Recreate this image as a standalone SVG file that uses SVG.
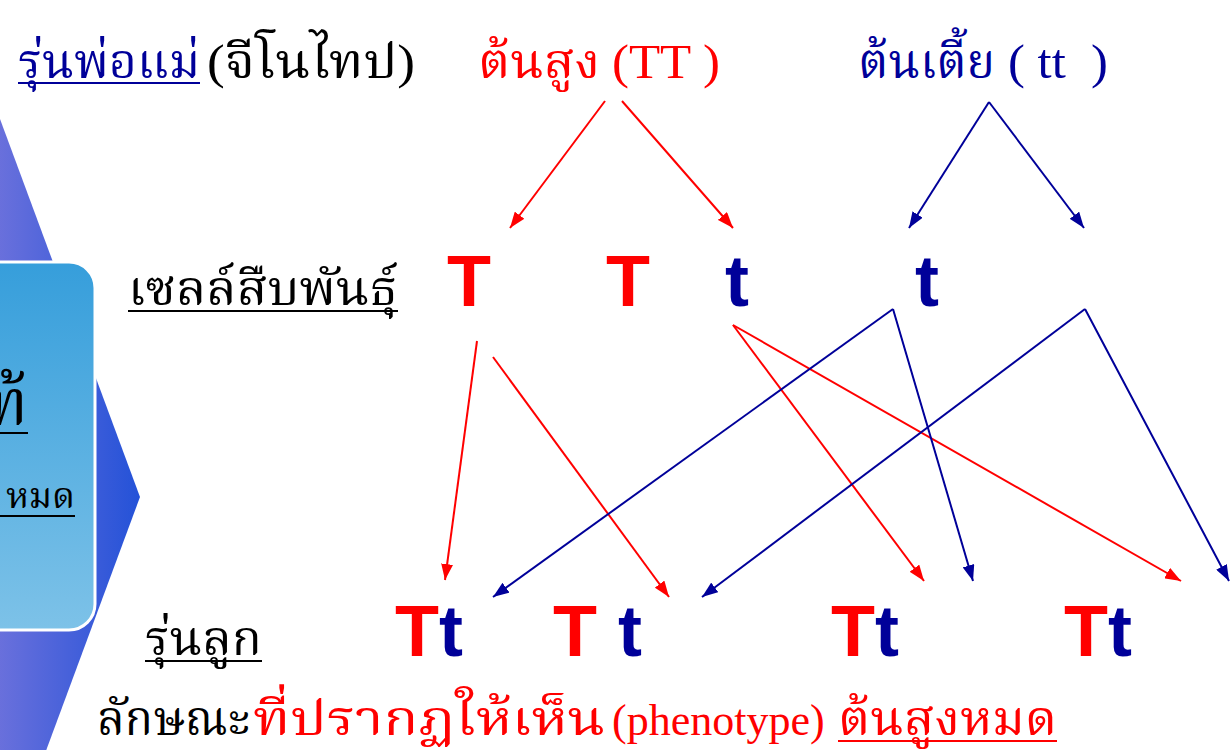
<svg xmlns="http://www.w3.org/2000/svg" width="1231" height="750" viewBox="0 0 1231 750">
<style>
.th{font-family:'Liberation Serif','Norasi','Noto Serif Thai','Noto Sans Thai',serif;font-size:48px;font-weight:normal;white-space:pre}
.big{font-family:'Liberation Sans',Arial,sans-serif;font-weight:bold;font-size:72px}
.red{fill:#FF0000}
.blue{fill:#000099}
.blk{fill:#000000}
.ulk{stroke:#000000;stroke-width:2}
.ulb{stroke:#000099;stroke-width:2}
.ulr{stroke:#FF0000;stroke-width:2}
.rl{stroke:#FF0000;stroke-width:2;fill:none;marker-end:url(#ar)}
.bl{stroke:#000099;stroke-width:2;fill:none;marker-end:url(#ab)}
</style>
<defs>
<linearGradient id="gChev" x1="0" y1="0" x2="1" y2="0">
<stop offset="0" stop-color="#6E72DC"/>
<stop offset="1" stop-color="#2452D8"/>
</linearGradient>
<linearGradient id="gBox" x1="0" y1="0" x2="0" y2="1">
<stop offset="0" stop-color="#369EDB"/>
<stop offset="1" stop-color="#7DC2E8"/>
</linearGradient>
<marker id="ar" markerUnits="userSpaceOnUse" markerWidth="16" markerHeight="12" refX="16" refY="6" orient="auto">
<path d="M0,0 L16,6 L0,12 z" fill="#FF0000"/>
</marker>
<marker id="ab" markerUnits="userSpaceOnUse" markerWidth="16" markerHeight="12" refX="16" refY="6" orient="auto">
<path d="M0,0 L16,6 L0,12 z" fill="#000099"/>
</marker>
</defs>
<rect width="1231" height="750" fill="#FFFFFF"/>

<g id="side">
<polygon points="-10,92 140,497 -10,902" fill="url(#gChev)"/>
<rect x="-40" y="262" width="135" height="368" rx="26" fill="url(#gBox)" stroke="#FFFFFF" stroke-width="3"/>
<text class="th blk" x="28" y="425" text-anchor="end" style="font-size:64px">ท้</text>
<line class="ulk" x1="0" y1="433" x2="28" y2="433"/>
<text class="th blk" x="75" y="508" text-anchor="end" style="font-size:36px">หมด</text>
<line class="ulk" x1="0" y1="516" x2="75" y2="516"/>
</g>

<g id="label-parents">
<text class="th blue" x="18" y="78" textLength="182" lengthAdjust="spacingAndGlyphs">รุ่นพ่อแม่</text>
<line class="ulb" x1="18" y1="83" x2="200" y2="83"/>
<text class="th blk" x="207" y="78" textLength="208" lengthAdjust="spacingAndGlyphs">(จีโนไทป)</text>
</g>
<g id="parent-tall">
<text class="th red" x="478" y="78" textLength="122" lengthAdjust="spacingAndGlyphs">ต้นสูง</text>
<text class="th red" x="612" y="78" textLength="108" lengthAdjust="spacingAndGlyphs">(TT )</text>
</g>
<g id="parent-short">
<text class="th blue" x="858" y="78" textLength="137" lengthAdjust="spacingAndGlyphs">ต้นเตี้ย</text>
<text class="th blue" x="1008" y="78" textLength="100" lengthAdjust="spacingAndGlyphs">( tt  )</text>
</g>

<g id="label-gametes">
<text class="th blk" x="128" y="305" textLength="270" lengthAdjust="spacingAndGlyphs">เซลล์สืบพันธุ์</text>
<line class="ulk" x1="128" y1="311" x2="398" y2="311"/>
</g>
<g id="gamete-T1"><text class="big red" x="447" y="306">T</text></g>
<g id="gamete-T2"><text class="big red" x="606" y="306">T</text></g>
<g id="gamete-t1"><text class="big blue" x="725" y="306">t</text></g>
<g id="gamete-t2"><text class="big blue" x="915" y="306">t</text></g>

<g id="label-offspring">
<text class="th blk" x="145" y="655" textLength="117" lengthAdjust="spacingAndGlyphs">รุ่นลูก</text>
<line class="ulk" x1="145" y1="661" x2="262" y2="661"/>
</g>
<g id="child-1"><text class="big" x="395" y="656"><tspan class="red">T</tspan><tspan class="blue">t</tspan></text></g>
<g id="child-2"><text class="big" x="553" y="656"><tspan class="red">T</tspan><tspan class="blue" x="618">t</tspan></text></g>
<g id="child-3"><text class="big" x="831" y="656"><tspan class="red">T</tspan><tspan class="blue">t</tspan></text></g>
<g id="child-4"><text class="big" x="1064" y="656"><tspan class="red">T</tspan><tspan class="blue">t</tspan></text></g>

<g id="phenotype">
<text class="th blk" x="97" y="735" textLength="153" lengthAdjust="spacingAndGlyphs">ลักษณะ</text>
<text class="th red" x="253" y="735" textLength="352" lengthAdjust="spacingAndGlyphs">ที่ปรากฏให้เห็น</text>
<text class="th red" x="612" y="735" style="font-size:44px">(phenotype)</text>
<text class="th red" x="838" y="735" textLength="219" lengthAdjust="spacingAndGlyphs">ต้นสูงหมด</text>
<line class="ulr" x1="838" y1="741" x2="1057" y2="741"/>
</g>

<g id="connectors">
<line class="rl" x1="605" y1="101" x2="510" y2="228"/>
<line class="rl" x1="622" y1="101" x2="733" y2="228"/>
<line class="bl" x1="989" y1="102" x2="909" y2="228"/>
<line class="bl" x1="989" y1="102" x2="1084" y2="228"/>
<line class="rl" x1="477" y1="341" x2="445" y2="580"/>
<line class="rl" x1="493" y1="357" x2="669" y2="597"/>
<line class="rl" x1="733" y1="325" x2="924" y2="581"/>
<line class="rl" x1="733" y1="325" x2="1181" y2="581"/>
<line class="bl" x1="893" y1="309" x2="493" y2="597"/>
<line class="bl" x1="893" y1="309" x2="973" y2="581"/>
<line class="bl" x1="1085" y1="309" x2="702" y2="597"/>
<line class="bl" x1="1085" y1="309" x2="1229" y2="581"/>
</g>
</svg>
